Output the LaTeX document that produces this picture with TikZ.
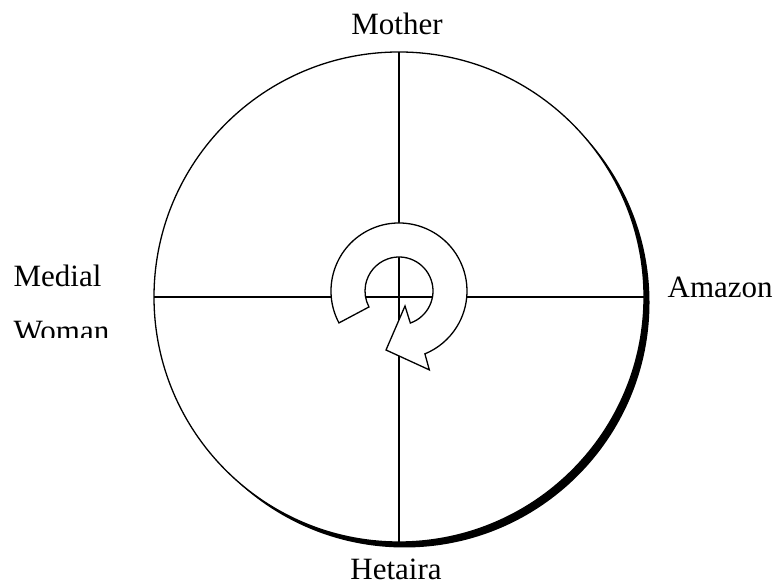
\documentclass[tikz,border=0pt]{standalone}
\usepackage{fontspec}
\setmainfont{Liberation Serif}
\usetikzlibrary{calc}
\begin{document}
\begin{tikzpicture}[x=1pt, y=1pt, line width=1.3pt,
		lbl/.style={font=\fontsize{31}{55}\selectfont, inner sep=0pt, anchor=base}]
			\useasboundingbox (0,0) rectangle (773,585);
			\coordinate (c) at (399,288);
			% shadow and wheel
			\fill[black] ($(c)+(5.5,-5.5)$) circle (245);
			\draw[fill=white] (c) circle (245);
			\foreach \a/\n in {0/r,90/t,180/l,270/b}
				{
					\coordinate (\n) at ($(c)+(\a:245)$);
				}
			\draw (t) -- (b);
			\draw (l) -- (r);
			% circular arrow in the middle
			\coordinate (m) at (399,294);
			\draw[fill=white, line join=miter] ($(m)+(208:68)$) arc[start angle=208, end angle=-67.6, radius=68]
			-- ++(4.4,-16) -- ($(m)+(-13,-59)$) -- ($(m)+(6,-15)$) -- ($(m)+(-70.5:34)$)
			arc[start angle=-70.5, end angle=208, radius=34] -- cycle;
			% labels
			\node[lbl] (mother) at (397,550) {Mother};
			\node[lbl, anchor=base west] (amazon) at (667,287) {Amazon};
			\node[lbl] (hetaira) at (396,5) {Hetaira};
			\begin{scope}
				\clip (0,247.5) rectangle (150,400);
				\node[lbl, anchor=base west, align=left] (medial) at (13,243.3) {Medial\\Woman};
			\end{scope}
		\end{tikzpicture}
\end{document}
